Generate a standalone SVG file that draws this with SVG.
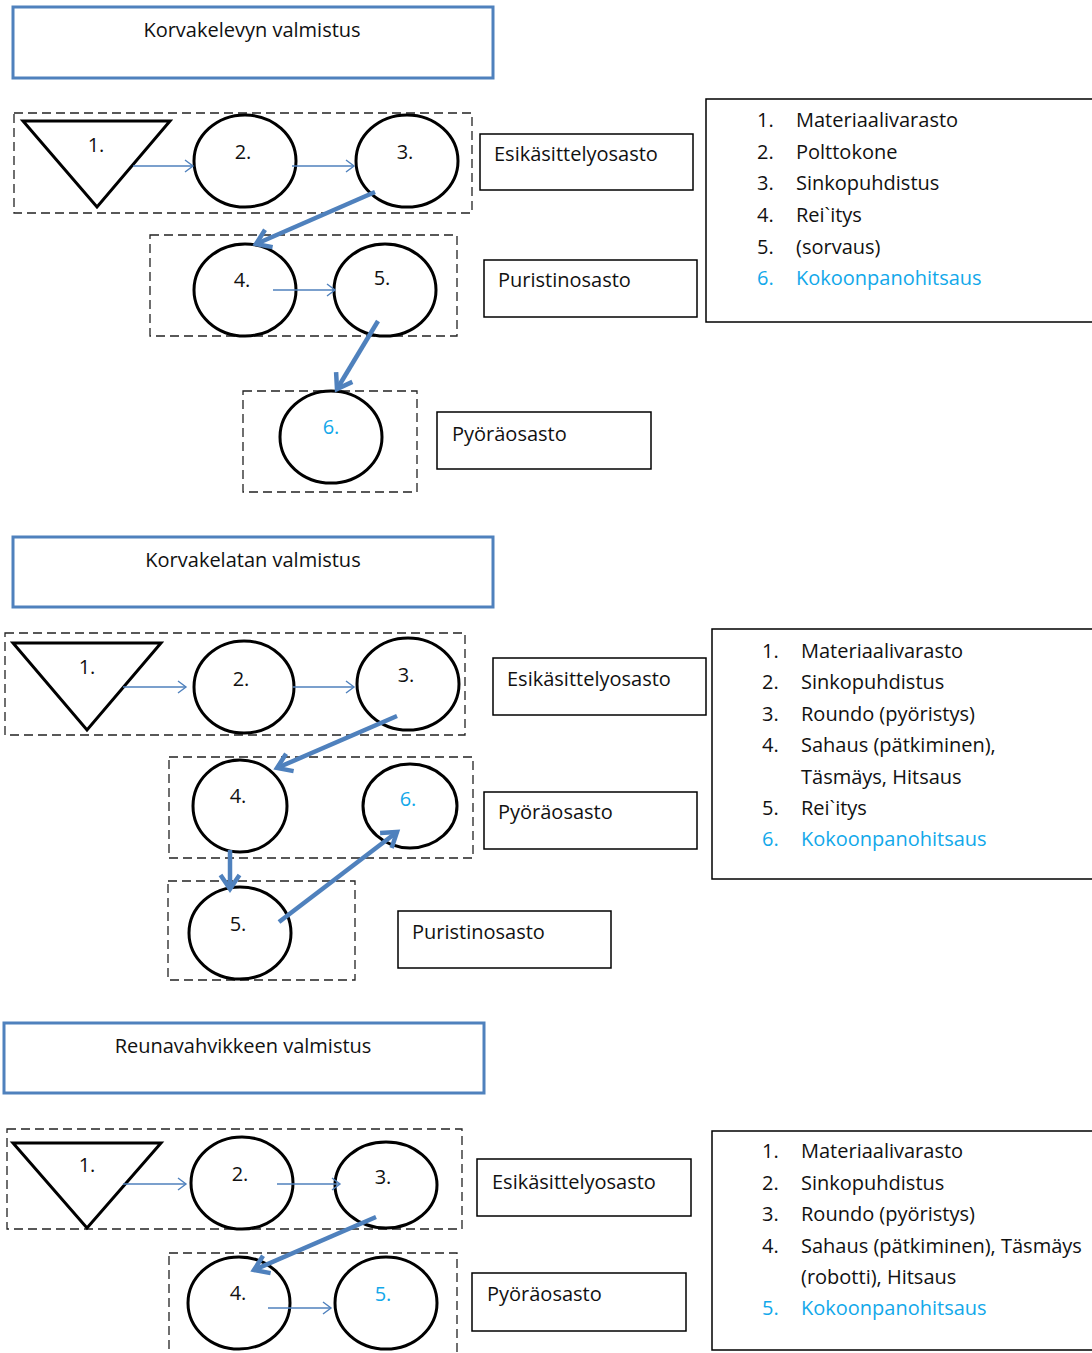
<svg xmlns="http://www.w3.org/2000/svg" width="1092" height="1353" viewBox="0 0 1092 1353">
<defs>
<marker id="thin" markerUnits="userSpaceOnUse" markerWidth="14" markerHeight="14" refX="11" refY="7" orient="auto" overflow="visible">
<path d="M3,1 L11,7 L3,13" fill="none" stroke="#4f81bd" stroke-width="1.4"/>
</marker>
<marker id="thick" markerUnits="userSpaceOnUse" markerWidth="24" markerHeight="24" refX="19" refY="12" orient="auto" overflow="visible">
<path d="M5,2.5 L19,12 L5,21.5" fill="none" stroke="#4f81bd" stroke-width="4.5"/>
</marker>
<style>
.title{fill:#fff;stroke:#4f81bd;stroke-width:3}
.dash{fill:none;stroke:#222;stroke-width:1.3;stroke-dasharray:9,5}
.box{fill:#fff;stroke:#000;stroke-width:1.5}
.node{fill:#fff;stroke:#000;stroke-width:3}
.t{font-family:"Open Sans","Noto Sans",sans-serif;font-size:20px;fill:#111}
.c{text-anchor:middle}
.b{fill:#12a8ea}
.thin{stroke:#4f81bd;stroke-width:1.4;fill:none;marker-end:url(#thin)}
.thk{stroke:#4f81bd;stroke-width:4.5;fill:none;marker-end:url(#thick)}
</style>
</defs>
<rect width="1092" height="1353" fill="#fff"/>

<!-- Section 1 -->
<g id="title1"><rect class="title" x="13" y="7" width="480" height="71"/><text class="t c" x="252" y="37">Korvakelevyn valmistus</text></g>
<g id="dept1a"><rect class="dash" x="14" y="113" width="458" height="100"/></g>
<g id="dept1b"><rect class="dash" x="150" y="235" width="307" height="101"/></g>
<g id="dept1c"><rect class="dash" x="243" y="391" width="174" height="101"/></g>
<g id="n1-1"><polygon class="node" points="23,121 170,121 97,207"/><text class="t c" x="96" y="152">1.</text></g>
<g id="n1-2"><ellipse class="node" cx="245" cy="161" rx="51" ry="46"/><text class="t c" x="243" y="159">2.</text></g>
<g id="n1-3"><ellipse class="node" cx="407" cy="161" rx="51" ry="46"/><text class="t c" x="405" y="159">3.</text></g>
<g id="n1-4"><ellipse class="node" cx="245" cy="290" rx="51" ry="46"/><text class="t c" x="242" y="287">4.</text></g>
<g id="n1-5"><ellipse class="node" cx="385" cy="290" rx="51" ry="46"/><text class="t c" x="382" y="285">5.</text></g>
<g id="n1-6"><ellipse class="node" cx="331" cy="437" rx="51" ry="46"/><text class="t c b" x="331" y="434">6.</text></g>
<g id="lab1a"><rect class="box" x="480" y="134" width="213" height="56"/><text class="t" x="494" y="161">Esikäsittelyosasto</text></g>
<g id="lab1b"><rect class="box" x="484" y="260" width="213" height="57"/><text class="t" x="498" y="287">Puristinosasto</text></g>
<g id="lab1c"><rect class="box" x="437" y="412" width="214" height="57"/><text class="t" x="452" y="441">Pyöräosasto</text></g>
<g id="legend1"><rect class="box" x="706" y="99" width="400" height="223"/>
<text class="t" x="757" y="127">1.</text><text class="t" x="796" y="127">Materiaalivarasto</text>
<text class="t" x="757" y="159">2.</text><text class="t" x="796" y="159">Polttokone</text>
<text class="t" x="757" y="190">3.</text><text class="t" x="796" y="190">Sinkopuhdistus</text>
<text class="t" x="757" y="222">4.</text><text class="t" x="796" y="222">Rei`itys</text>
<text class="t" x="757" y="254">5.</text><text class="t" x="796" y="254">(sorvaus)</text>
<text class="t b" x="757" y="285">6.</text><text class="t b" x="796" y="285">Kokoonpanohitsaus</text>
</g>

<!-- Section 2 -->
<g id="title2"><rect class="title" x="13" y="537" width="480" height="70"/><text class="t c" x="253" y="567">Korvakelatan valmistus</text></g>
<g id="dept2a"><rect class="dash" x="5" y="633" width="460" height="102"/></g>
<g id="dept2b"><rect class="dash" x="169" y="757" width="304" height="101"/></g>
<g id="dept2c"><rect class="dash" x="168" y="881" width="187" height="99"/></g>
<g id="n2-1"><polygon class="node" points="13,643 161,643 87,730"/><text class="t c" x="87" y="674">1.</text></g>
<g id="n2-2"><ellipse class="node" cx="244" cy="687" rx="50" ry="46"/><text class="t c" x="241" y="686">2.</text></g>
<g id="n2-3"><ellipse class="node" cx="408" cy="684" rx="51" ry="46"/><text class="t c" x="406" y="682">3.</text></g>
<g id="n2-4"><ellipse class="node" cx="240" cy="806" rx="47" ry="46"/><text class="t c" x="238" y="803">4.</text></g>
<g id="n2-6"><ellipse class="node" cx="410" cy="806" rx="47" ry="42"/><text class="t c b" x="408" y="806">6.</text></g>
<g id="n2-5"><ellipse class="node" cx="240" cy="933" rx="51" ry="46"/><text class="t c" x="238" y="931">5.</text></g>
<g id="lab2a"><rect class="box" x="493" y="658" width="213" height="57"/><text class="t" x="507" y="686">Esikäsittelyosasto</text></g>
<g id="lab2b"><rect class="box" x="484" y="792" width="213" height="57"/><text class="t" x="498" y="819">Pyöräosasto</text></g>
<g id="lab2c"><rect class="box" x="398" y="911" width="213" height="57"/><text class="t" x="412" y="939">Puristinosasto</text></g>
<g id="legend2"><rect class="box" x="712" y="629" width="400" height="250"/>
<text class="t" x="762" y="658">1.</text><text class="t" x="801" y="658">Materiaalivarasto</text>
<text class="t" x="762" y="689">2.</text><text class="t" x="801" y="689">Sinkopuhdistus</text>
<text class="t" x="762" y="721">3.</text><text class="t" x="801" y="721">Roundo (pyöristys)</text>
<text class="t" x="762" y="752">4.</text><text class="t" x="801" y="752">Sahaus (pätkiminen),</text>
<text class="t" x="801" y="784">Täsmäys, Hitsaus</text>
<text class="t" x="762" y="815">5.</text><text class="t" x="801" y="815">Rei`itys</text>
<text class="t b" x="762" y="846">6.</text><text class="t b" x="801" y="846">Kokoonpanohitsaus</text>
</g>

<!-- Section 3 -->
<g id="title3"><rect class="title" x="4" y="1023" width="480" height="70"/><text class="t c" x="243" y="1053">Reunavahvikkeen valmistus</text></g>
<g id="dept3a"><rect class="dash" x="7" y="1129" width="455" height="100"/></g>
<g id="dept3b"><rect class="dash" x="169" y="1253" width="288" height="110"/></g>
<g id="n3-1"><polygon class="node" points="13,1143 161,1143 87,1228"/><text class="t c" x="87" y="1172">1.</text></g>
<g id="n3-2"><ellipse class="node" cx="242" cy="1183" rx="51" ry="46"/><text class="t c" x="240" y="1181">2.</text></g>
<g id="n3-3"><ellipse class="node" cx="386" cy="1185" rx="51" ry="43"/><text class="t c" x="383" y="1184">3.</text></g>
<g id="n3-4"><ellipse class="node" cx="239" cy="1303" rx="51" ry="46"/><text class="t c" x="238" y="1300">4.</text></g>
<g id="n3-5"><ellipse class="node" cx="386" cy="1303" rx="51" ry="46"/><text class="t c b" x="383" y="1301">5.</text></g>
<g id="lab3a"><rect class="box" x="477" y="1159" width="214" height="57"/><text class="t" x="492" y="1189">Esikäsittelyosasto</text></g>
<g id="lab3b"><rect class="box" x="472" y="1273" width="214" height="58"/><text class="t" x="487" y="1301">Pyöräosasto</text></g>
<g id="legend3"><rect class="box" x="712" y="1131" width="400" height="219"/>
<text class="t" x="762" y="1158">1.</text><text class="t" x="801" y="1158">Materiaalivarasto</text>
<text class="t" x="762" y="1190">2.</text><text class="t" x="801" y="1190">Sinkopuhdistus</text>
<text class="t" x="762" y="1221">3.</text><text class="t" x="801" y="1221">Roundo (pyöristys)</text>
<text class="t" x="762" y="1253">4.</text><text class="t" x="801" y="1253">Sahaus (pätkiminen), Täsmäys</text>
<text class="t" x="801" y="1284">(robotti), Hitsaus</text>
<text class="t b" x="762" y="1315">5.</text><text class="t b" x="801" y="1315">Kokoonpanohitsaus</text>
</g>

<g id="connectors">
<line class="thin" x1="133" y1="166" x2="193" y2="166"/>
<line class="thin" x1="292" y1="166" x2="354" y2="166"/>
<line class="thk" x1="375" y1="192" x2="256" y2="244"/>
<line class="thin" x1="273" y1="290" x2="335" y2="290"/>
<line class="thk" x1="378" y1="321" x2="337" y2="389"/>

<line class="thin" x1="123" y1="687" x2="186" y2="687"/>
<line class="thin" x1="293" y1="687" x2="354" y2="687"/>
<line class="thk" x1="397" y1="716" x2="277" y2="768"/>
<line class="thk" x1="230" y1="850" x2="230" y2="889"/>
<line class="thk" x1="279" y1="922" x2="397" y2="832"/>

<line class="thin" x1="123" y1="1184" x2="186" y2="1184"/>
<line class="thin" x1="277" y1="1184" x2="340" y2="1184"/>
<line class="thk" x1="376" y1="1217" x2="254" y2="1270"/>
<line class="thin" x1="268" y1="1308" x2="331" y2="1308"/>
</g>
</svg>
